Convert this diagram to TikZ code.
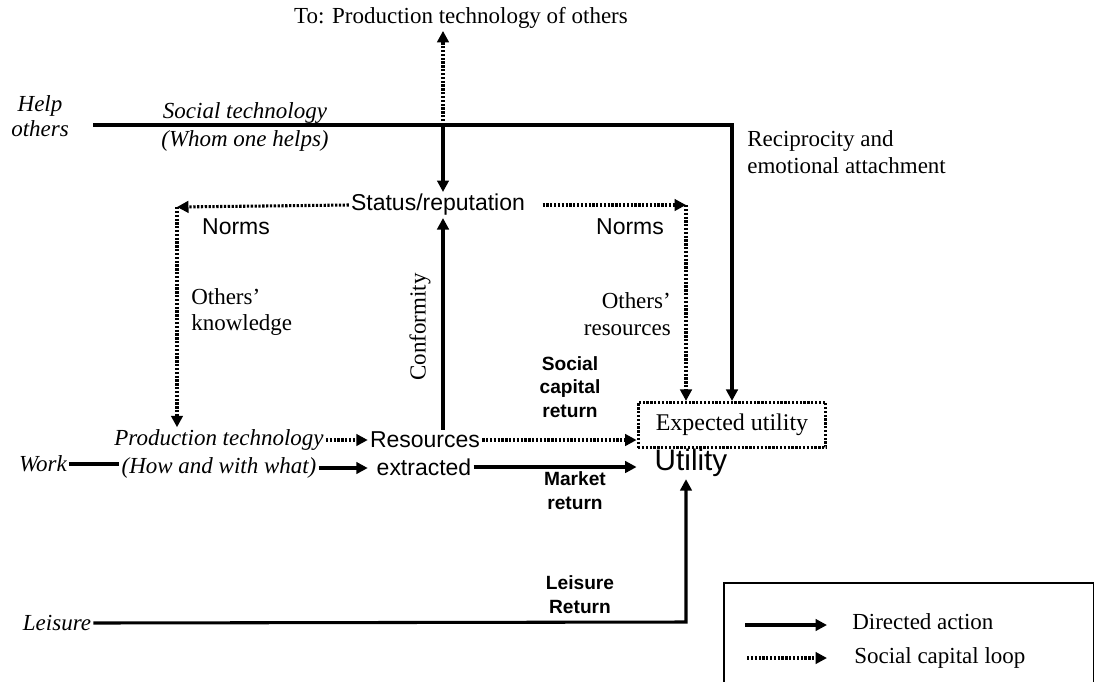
\documentclass[tikz,border=0pt]{standalone}
\usepackage{fontspec}
\setmainfont{Liberation Serif}
\setsansfont{Liberation Sans}
\usetikzlibrary{arrows.meta, positioning, calc}
\tikzset{
    % Text styles
    label text/.style={
        font=\fontsize{12}{14}\selectfont,
        inner sep=1pt,
        align=center
    },
    label italic/.style={
        label text,
        font=\fontsize{12}{14.6}\selectfont\itshape
    },
    label sans/.style={
        label text,
        font=\sffamily\fontsize{12}{14}\selectfont
    },
    return label/.style={
        font=\sffamily\bfseries\fontsize{10}{12.4}\selectfont,
        align=center,
        inner sep=0pt
    },
    % Connector styles
    plain line/.style={
        line width=1.6pt
    },
    action arrow/.style={
        -{Triangle[length=6pt,width=6pt]},
        line width=1.6pt
    },
    loop arrow/.style={
        action arrow,
        dash pattern=on 1.2pt off 0.8pt
    },
    loop box/.style={
        draw,
        line width=1.6pt,
        dash pattern=on 1.2pt off 0.8pt,
        inner sep=0pt
    }
}
\begin{document}
\begin{tikzpicture}[x=0.522pt, y=-0.522pt]
        \useasboundingbox (0,0) rectangle (1094,681);

        % Top target
        \node[label text] (top) at (461,18) {To: Production technology of others};

        % Social technology row
        \node[label italic, font=\fontsize{12}{13}\selectfont\itshape] (help) at (40,116) {Help\\others};
        \node[label italic] (socialtech) at (245,127) {Social technology\\(Whom one helps)};
        \node[label text, align=left, anchor=west] (recip) at (745,152) {Reciprocity and\\emotional attachment};
        \coordinate (cross) at (443,125);
        \coordinate (corner) at (732,125);

        % Status and norms
        \node[label sans] (status) at (438,205) {Status/reputation};
        \node[label sans] (normsL) at (236,227) {Norms};
        \node[label sans] (normsR) at (630,227) {Norms};
        \node[label text, align=left, anchor=west] (knowledge) at (189,312) {Others'\\knowledge};
        \node[label text, align=right, anchor=east] (othersres) at (673,314) {Others'\\resources};
        \node[label text, rotate=90] (conform) at (420,327) {Conformity};
        \coordinate (leftturn) at (177,207);
        \coordinate (rightturn) at (686,205);

        % Work row
        \node[label italic] (prod1) at (219,440) {Production technology};
        \node[label italic] (prod2) at (219,468) {(How and with what)};
        \node[label italic] (work) at (43,464) {Work};
        \node[label sans] (res1) at (425,440) {Resources};
        \node[label sans] (res2) at (424,467) {extracted};

        % Returns
        \node[return label] (screturn) at (570,387) {Social\\capital\\return};
        \node[return label] (mreturn) at (575,491) {Market\\return};
        \node[return label] (lreturn) at (580,595) {Leisure\\Return};

        % Utility
        \node[loop box, minimum width=98pt, minimum height=23.5pt, font=\fontsize{12.5}{14}\selectfont] (expected) at (732,425) {Expected utility};
        \node[font=\sffamily\fontsize{15.5}{18}\selectfont, inner sep=1pt] (utility) at (691,463) {Utility};

        % Leisure row
        \node[label italic] (leisure) at (57,623) {Leisure};
        \coordinate (leisureturn) at (686,622);

        % Connection lines
        \draw[action arrow] ($(help.east |- cross)+(22,0)$) -- (corner) -- (expected.north);
        \draw[loop arrow] (cross) -- (cross |- top.south);
        \draw[action arrow] (cross) -- (cross |- status.north);
        \draw[action arrow] (cross |- res1.north) -- (cross |- status.south);
        \draw[loop arrow] (status.west) -- (leftturn);
        \draw[loop arrow] (leftturn) -- (leftturn |- prod1.north);
        \draw[loop arrow, shorten <=8] (status.east) -- (rightturn);
        \draw[loop arrow] (rightturn) -- (rightturn |- expected.north);
        \draw[plain line] (work.east) -- (work.east -| prod2.west);
        \draw[loop arrow] (prod1.east) -- (res1.west);
        \draw[action arrow] (prod2.east) -- (prod2.east -| res1.west);
        \draw[loop arrow] (res1.east) -- (res1.east -| expected.west);
        \draw[action arrow] (res2.east) -- (res2.east -| expected.west);
        \draw[action arrow] (leisure.east) -- (leisureturn) -- (leisureturn |- utility.south);

        % Legend
        \node[draw, line width=0.8pt, anchor=north west, minimum width=193pt, minimum height=63pt] (legend) at (723,582) {};
        \node[label text, anchor=west] (legact) at (850,622) {Directed action};
        \node[label text, anchor=west] (legloop) at (852,658) {Social capital loop};
        \draw[action arrow] ($(legact.west)+(-105,3)$) -- ($(legact.west)+(-23,3)$);
        \draw[loop arrow] ($(legloop.west)+(-105,0)$) -- ($(legloop.west)+(-25,0)$);
    \end{tikzpicture}
\end{document}
